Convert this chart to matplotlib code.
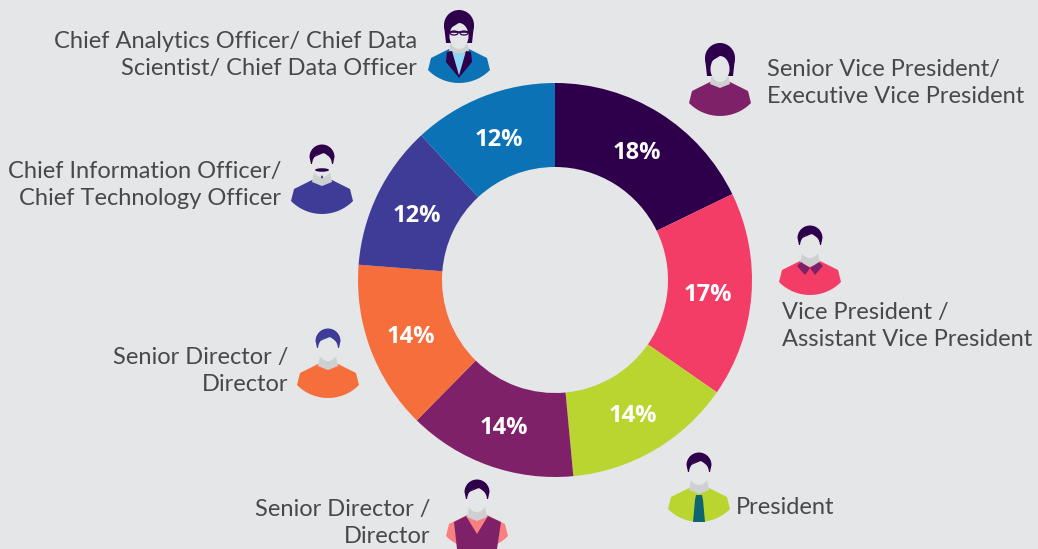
import numpy as np
import matplotlib
matplotlib.use("Agg")
import matplotlib.pyplot as plt
from matplotlib.patches import Polygon, Ellipse, Wedge

titles = ["Senior Vice President/\nExecutive Vice President",
          "Vice President /\nAssistant Vice President",
          "President",
          "Senior Director /\nDirector",
          "Senior Director /\nDirector",
          "Chief Information Officer/\nChief Technology Officer",
          "Chief Analytics Officer/ Chief Data\nScientist/ Chief Data Officer"]
values = [18, 17, 14, 14, 14, 12, 12]
colors = ["#2e004b", "#f33d67", "#bad530", "#7f2169", "#f56e3b", "#3f3c97", "#0b73b5"]

bg = "#e5e6e8"
neck = "#cfd0d2"
dark = "#2e004b"
text_col = "#48484a"
W, H = 1038, 549
plt.rcParams["font.family"] = ["Lato", "DejaVu Sans"]

fig = plt.figure(figsize=(W / 100, H / 100), dpi=100, facecolor=bg)

# donut, centre 555,280 radius 197 in pixels
cx, cy, r = 555, 280, 197
pie_ax = fig.add_axes([(cx - r) / W, 1 - (cy + r) / H, 2 * r / W, 2 * r / H])
wedges, _ = pie_ax.pie(values, colors=colors, startangle=90, counterclock=False, radius=1,
                       wedgeprops=dict(width=84 / 197, linewidth=0))
pie_ax.set_xlim(-1, 1)
pie_ax.set_ylim(-1, 1)
for w, v in zip(wedges, values):
    ang = np.deg2rad((w.theta1 + w.theta2) / 2)
    pie_ax.text(0.78 * np.cos(ang), 0.78 * np.sin(ang) - 0.015, str(v) + "%", color="white",
                fontsize=17, fontweight="bold", family="Open Sans", ha="center", va="center")

# overlay in pixel coordinates for the people and the captions
ax = fig.add_axes([0, 0, 1, 1])
ax.set_xlim(0, W)
ax.set_ylim(H, 0)
ax.axis("off")
ax.patch.set_alpha(0)


def shoulders(x, y, col):
    pts = [(-10, -1), (-28, 8), (-31, 20)]
    for t in np.linspace(-45, 45, 21):
        pts.append((43.5 * np.sin(np.deg2rad(t)), -10.5 + 43.5 * np.cos(np.deg2rad(t))))
    pts += [(31, 20), (28, 8), (10, -1)]
    ax.add_patch(Polygon([(x + a, y + b) for a, b in pts], closed=True, fc=col, ec="none"))


def person(x, y, body, hair, long_hair=False):
    shoulders(x, y, body)
    ax.add_patch(Polygon([(x - 8, y - 9), (x + 8, y - 9), (x + 10, y + 1), (x, y + 5), (x - 10, y + 1)],
                         closed=True, fc=neck, ec="none"))
    if long_hair:
        ax.add_patch(Ellipse((x, y - 25), 30, 30, fc=hair, ec="none"))
        ax.add_patch(Polygon([(x - 15, y - 25), (x + 15, y - 25), (x + 13, y - 7), (x - 13, y - 7)],
                             closed=True, fc=hair, ec="none"))
        ax.add_patch(Ellipse((x, y - 14), 19, 26, fc=bg, ec="none"))
        ax.add_patch(Polygon([(x - 10, y - 21), (x - 5, y - 24), (x + 3, y - 29), (x - 8, y - 29)],
                             closed=True, fc=hair, ec="none"))
    else:
        ax.add_patch(Wedge((x, y - 24), 12.5, 180, 360, fc=hair, ec="none"))
        ax.add_patch(Polygon([(x - 12.5, y - 24), (x + 12.5, y - 24), (x + 11, y - 17), (x - 11, y - 17)],
                             closed=True, fc=hair, ec="none"))
        ax.add_patch(Ellipse((x, y - 16), 20, 24, fc=bg, ec="none"))
        ax.add_patch(Polygon([(x - 10, y - 23), (x + 4, y - 29), (x + 10, y - 22), (x, y - 30)],
                             closed=True, fc=hair, ec="none"))


# senior vp
person(720, 83, colors[3], dark, long_hair=True)

# vp, collar
person(810, 262, colors[1], dark)
ax.add_patch(Polygon([(801, 262), (810, 268), (805, 275), (797, 266)], fc=colors[3], ec="none"))
ax.add_patch(Polygon([(819, 262), (810, 268), (815, 275), (823, 266)], fc=colors[3], ec="none"))

# president, tie
person(699, 489, colors[2], dark)
ax.add_patch(Polygon([(696, 495), (702, 495), (703, 500), (705, 522), (693, 522), (695, 500)],
                     fc="#0f6472", ec="none"))

# bottom director, pink shirt under vest
person(477, 516, "#f98080", dark)
ax.add_patch(Polygon([(454, 522), (466, 516), (477, 534), (488, 516), (501, 522), (497, 549), (457, 549)],
                     fc=colors[3], ec="none"))

# orange director
person(328, 365, colors[4], colors[5])

# cio, moustache
person(322, 181, colors[5], dark)
ax.add_patch(Ellipse((322, 170), 14, 3.5, fc=dark, ec="none"))
ax.add_patch(Ellipse((322, 177), 1.5, 3, fc=dark, ec="none"))

# analytics, jacket and glasses
person(459, 50, colors[6], dark, long_hair=True)
ax.add_patch(Polygon([(449, 53), (469, 53), (459, 79)], fc="#8fd6f2", ec="none"))
ax.add_patch(Polygon([(447, 52), (452, 51), (460, 79), (446, 62)], fc=dark, ec="none"))
ax.add_patch(Polygon([(471, 52), (466, 51), (458, 79), (472, 62)], fc=dark, ec="none"))
ax.plot([450, 468], [32, 32], color=dark, lw=1.2)
ax.add_patch(Ellipse((454, 33), 8, 4, fc="none", ec=dark, lw=0.9))
ax.add_patch(Ellipse((464, 33), 8, 4, fc="none", ec=dark, lw=0.9))

# captions
fs = 17
cap = dict(fontsize=fs, color=text_col, linespacing=1.38, va="center")
ax.text(767, 83, titles[0], ha="left", **cap)
ax.text(782, 326, titles[1], ha="left", **cap)
ax.text(736, 508, titles[2], ha="left", **cap)
ax.text(430, 523, titles[3], ha="right", **cap)
ax.text(288, 371, titles[4], ha="right", **cap)
ax.text(281, 185, titles[5], ha="right", **cap)
ax.text(417, 55, titles[6], ha="right", **cap)

fig.savefig("out.png", dpi=100, facecolor=bg)
